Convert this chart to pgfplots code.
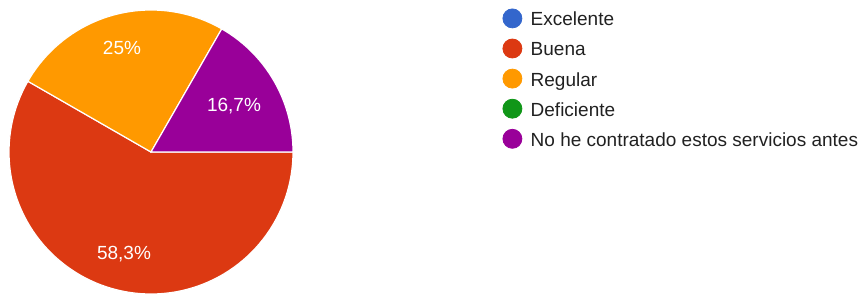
\documentclass[border=0pt]{standalone}
\usepackage{pgfplots}
\pgfplotsset{compat=1.18}
\usepackage{pgfplotstable}
\usepackage{fontspec}
\setmainfont{Liberation Sans}
\definecolor{c0}{HTML}{3366CC}
\definecolor{c1}{HTML}{DC3912}
\definecolor{c2}{HTML}{FF9900}
\definecolor{c3}{HTML}{109618}
\definecolor{c4}{HTML}{990099}
\definecolor{txt}{HTML}{212121}
\pgfplotstableread{
name value
Excelente 0
Buena 58.3
Regular 25
Deficiente 0
NoHe 16.7
}\piedata
\begin{document}
\begin{tikzpicture}
\begin{axis}[
  scale only axis, width=431pt, height=147pt,
  xmin=0, xmax=862, ymin=0, ymax=294,
  hide axis, clip=false,
  legend entries={Excelente, Buena, Regular, Deficiente, No he contratado estos servicios antes},
  legend style={draw=none, fill=none, inner sep=0pt, outer sep=0pt,
    at={(axis cs:502.5,285.5)}, anchor=north west,
    font=\fontsize{9.5pt}{11pt}\selectfont, text=txt,
    nodes={inner sep=0pt, text depth=2pt, text height=6.8pt},
    column sep=4.2pt, row sep=4.4pt},
  legend cell align=left,
]
\path (axis cs:0,0) rectangle (axis cs:862,294);
\def\start{360}
\pgfplotsforeachungrouped \i in {0,...,4}{%
  \pgfplotstablegetelem{\i}{value}\of\piedata
  \let\v\pgfplotsretval
  \pgfmathsetmacro{\endang}{\start-\v*3.6}%
  \ifdim\v pt>0pt
    \edef\temp{\noexpand\addplot[fill=c\i, draw=white, line width=0.6pt, domain=\endang:\start, samples=90, variable=\noexpand\t, forget plot] ({151+142*cos(\noexpand\t)},{142+142*sin(\noexpand\t)}) -- (axis cs:151,142) -- cycle;}%
    \temp
  \fi
  \global\let\start\endang
}
\addlegendimage{legend image code/.code={\fill[c0] (0pt,1.3pt) circle (4.75pt);}}
\addlegendimage{legend image code/.code={\fill[c1] (0pt,1.3pt) circle (4.75pt);}}
\addlegendimage{legend image code/.code={\fill[c2] (0pt,1.3pt) circle (4.75pt);}}
\addlegendimage{legend image code/.code={\fill[c3] (0pt,1.3pt) circle (4.75pt);}}
\addlegendimage{legend image code/.code={\fill[c4] (0pt,1.3pt) circle (4.75pt);}}
\node[text=white, font=\fontsize{9.5pt}{11pt}\selectfont, inner sep=0pt] at (axis cs:122,246) {25\%};
\node[text=white, font=\fontsize{9.5pt}{11pt}\selectfont, inner sep=0pt] at (axis cs:234,188) {16,7\%};
\node[text=white, font=\fontsize{9.5pt}{11pt}\selectfont, inner sep=0pt] at (axis cs:124,40) {58,3\%};
\end{axis}
\end{tikzpicture}
\end{document}
